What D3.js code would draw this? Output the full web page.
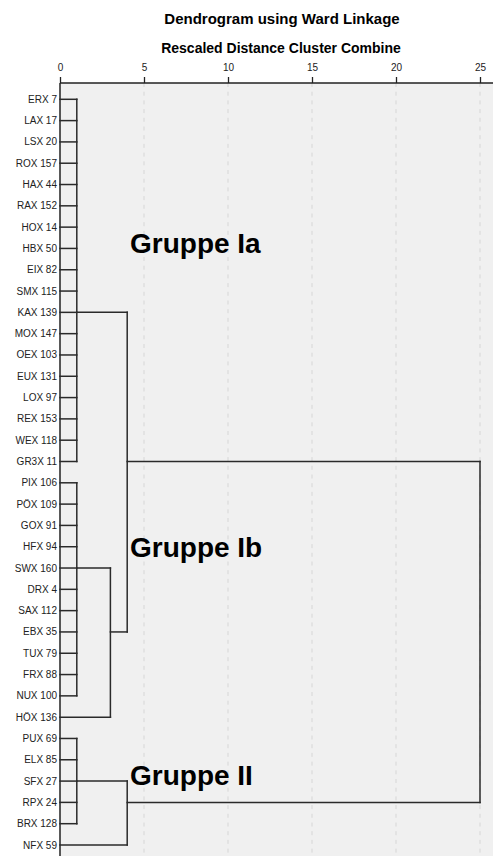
<!DOCTYPE html>
<html>
<head>
<meta charset="utf-8">
<script src="https://cdn.jsdelivr.net/npm/d3@7"></script>
<style>
  html, body { margin: 0; padding: 0; background: #ffffff; }
  svg { display: block; font-family: "Liberation Sans", Arial, sans-serif; }
</style>
</head>
<body>
<svg id="chart" width="493" height="856"></svg>
<script>
// ---- data ----
const leaves = ["ERX 7","LAX 17","LSX 20","ROX 157","HAX 44","RAX 152","HOX 14","HBX 50","EIX 82","SMX 115","KAX 139","MOX 147","OEX 103","EUX 131","LOX 97","REX 153","WEX 118","GR3X 11",
  "PIX 106","PÖX 109","GOX 91","HFX 94","SWX 160","DRX 4","SAX 112","EBX 35","TUX 79","FRX 88","NUX 100","HÖX 136",
  "PUX 69","ELX 85","SFX 27","RPX 24","BRX 128","NFX 59"];
// internal nodes: id, merge distance, children (leaf index numbers or node ids), drawn row (leaf-row units)
const nodeIds       = ["Ia", "Ib1", "Ib", "I", "II1", "II", "root"];
const nodeHeights   = [1.0, 1.0, 3.0, 4.0, 1.0, 4.0, 25.0];
const nodeChildren  = [
  [0,1,2,3,4,5,6,7,8,9,10,11,12,13,14,15,16,17],
  [18,19,20,21,22,23,24,25,26,27,28],
  ["Ib1", 29],
  ["Ia", "Ib"],
  [30,31,32,33,34],
  ["II1", 35],
  ["I", "II"]
];
const nodeRows      = [10, 22, 25, 17, 32, 33, 25];
const ticks = [0, 5, 10, 15, 20, 25];
const title = "Dendrogram using Ward Linkage";
const subtitle = "Rescaled Distance Cluster Combine";
const groupLabels = ["Gruppe Ia", "Gruppe Ib", "Gruppe II"];
const groupRows   = [7.2, 21.5, 32.2];

// ---- layout ----
const W = 493, H = 856;
const svg = d3.select("#chart");
const x = d3.scaleLinear().domain([0, 25]).range([60, 480]);
const y = d3.scaleLinear().domain([0, leaves.length - 1]).range([99.3, 845]);
const axisY = 83;

// plot background
svg.append("rect").attr("x", x(0)).attr("y", axisY).attr("width", W - x(0)).attr("height", H - axisY)
  .attr("fill", "#f0f0f0");

// grid lines
svg.append("g").selectAll("line").data(ticks.filter(t => t > 0)).join("line")
  .attr("x1", d => x(d)).attr("x2", d => x(d)).attr("y1", axisY).attr("y2", H)
  .attr("stroke", "#d6d6d6").attr("stroke-width", 1).attr("stroke-dasharray", "4,4.7");

// titles
svg.append("text").attr("x", 282).attr("y", 24).attr("text-anchor", "middle")
  .attr("font-size", 15).attr("font-weight", "bold").attr("fill", "#000").text(title);
svg.append("text").attr("x", 281).attr("y", 53).attr("text-anchor", "middle")
  .attr("font-size", 14).attr("font-weight", "bold").attr("fill", "#000").text(subtitle);

// top axis
const axis = d3.axisTop(x).tickValues(ticks).tickSize(6).tickPadding(6);
const ag = svg.append("g").attr("transform", `translate(0,${axisY})`).call(axis);
ag.select(".domain").remove();
ag.selectAll(".tick line").attr("stroke", "#222").attr("stroke-width", 1.3);
ag.selectAll(".tick text").attr("font-size", 10).attr("fill", "#222")
  .attr("font-family", "'Liberation Sans', Arial, sans-serif");
svg.append("line").attr("x1", x(0)).attr("x2", W).attr("y1", axisY).attr("y2", axisY)
  .attr("stroke", "#222").attr("stroke-width", 1.5);
svg.append("line").attr("x1", x(0)).attr("x2", x(0)).attr("y1", axisY).attr("y2", H)
  .attr("stroke", "#222").attr("stroke-width", 1.5);

// leaf labels
svg.append("g").selectAll("text").data(leaves).join("text")
  .attr("x", 57).attr("y", (d, i) => y(i)).attr("dy", "0.35em")
  .attr("text-anchor", "end").attr("font-size", 10).attr("fill", "#222")
  .text(d => d);

// dendrogram segments
const nodeMap = {};
nodeIds.forEach((id, i) => nodeMap[id] = { h: nodeHeights[i], row: nodeRows[i] });
function childInfo(c) {
  if (typeof c === "number") return { h: 0, row: c };
  return nodeMap[c];
}
const segs = [];
nodeIds.forEach((id, i) => {
  const kids = nodeChildren[i].map(childInfo);
  const rows = kids.map(k => k.row);
  segs.push({ x1: nodeHeights[i], x2: nodeHeights[i], y1: d3.min(rows), y2: d3.max(rows) });
  kids.forEach(k => segs.push({ x1: k.h, x2: nodeHeights[i], y1: k.row, y2: k.row }));
});
svg.append("g").selectAll("line").data(segs).join("line")
  .attr("x1", d => x(d.x1)).attr("x2", d => x(d.x2))
  .attr("y1", d => y(d.y1)).attr("y2", d => y(d.y2))
  .attr("stroke", "#2a2a2a").attr("stroke-width", 1.5).attr("stroke-linecap", "square");

// group labels
svg.append("g").selectAll("text").data(groupLabels).join("text")
  .attr("x", 130).attr("y", (d, i) => y(groupRows[i]))
  .attr("font-size", 28).attr("font-weight", "bold").attr("fill", "#000")
  .text(d => d);
</script>
</body>
</html>
